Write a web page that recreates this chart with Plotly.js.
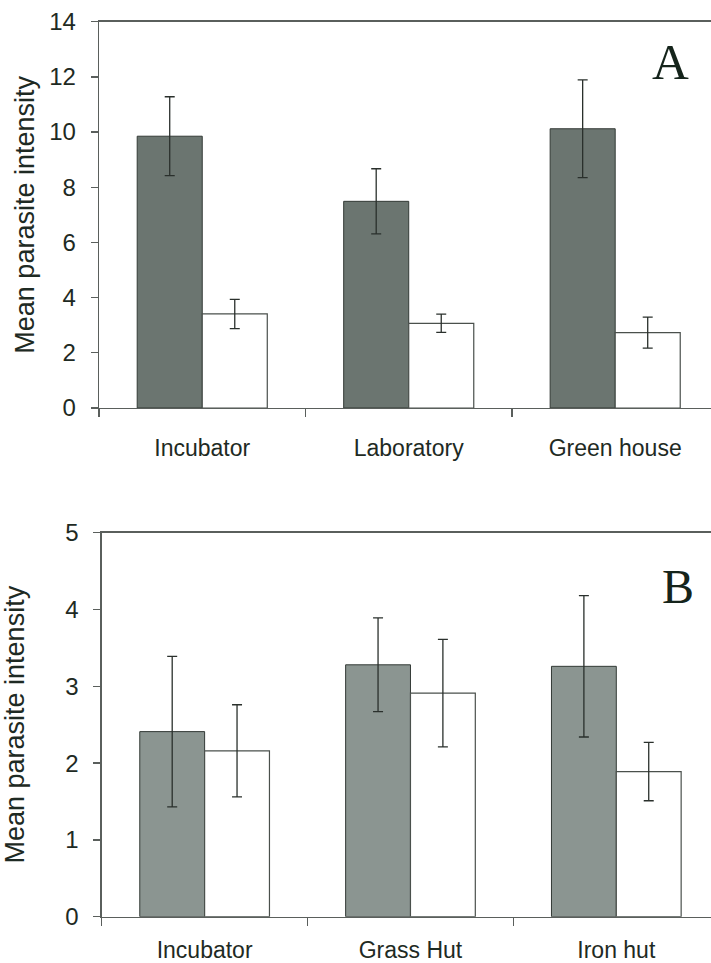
<!DOCTYPE html>
<html>
<head>
<meta charset="utf-8">
<script src="https://cdn.plot.ly/plotly-3.0.1.min.js"></script>
<style>
html,body{margin:0;padding:0;background:#fff;overflow:hidden;}
#chart{width:711px;height:963px;}
</style>
</head>
<body>
<div id="chart"></div>
<script>
// Panel A
var catsA = ["Incubator", "Laboratory", "Green house"];
var darkA = [9.85, 7.49, 10.12];
var darkErrA = [1.43, 1.18, 1.77];
var whiteA = [3.41, 3.07, 2.73];
var whiteErrA = [0.53, 0.33, 0.56];
// Panel B
var catsB = ["Incubator", "Grass Hut", "Iron hut"];
var darkB = [2.41, 3.28, 3.26];
var darkErrB = [0.98, 0.61, 0.92];
var whiteB = [2.16, 2.91, 1.89];
var whiteErrB = [0.60, 0.70, 0.38];
var yTicksA = [0, 2, 4, 6, 8, 10, 12, 14];
var yTicksB = [0, 1, 2, 3, 4, 5];
var yTitle = "Mean parasite intensity";
var panelLabels = ["A", "B"];

var W = 711, H = 963;
var textColor = "#1e2a23";
var lineColor = "#5a5f5c";
var errStyle = function(arr){
  return {type: "data", array: arr, visible: true, color: "#2a302c", thickness: 1.3, width: 5};
};

var traces = [
  {type: "bar", x: catsA, y: darkA, xaxis: "x", yaxis: "y", error_y: errStyle(darkErrA),
   marker: {color: "#6b7570", line: {color: "#333a36", width: 1}}, hoverinfo: "y"},
  {type: "bar", x: catsA, y: whiteA, xaxis: "x", yaxis: "y", error_y: errStyle(whiteErrA),
   marker: {color: "#ffffff", line: {color: "#4a504c", width: 1.2}}, hoverinfo: "y"},
  {type: "bar", x: catsB, y: darkB, xaxis: "x2", yaxis: "y2", error_y: errStyle(darkErrB),
   marker: {color: "#8b9591", line: {color: "#333a36", width: 1}}, hoverinfo: "y"},
  {type: "bar", x: catsB, y: whiteB, xaxis: "x2", yaxis: "y2", error_y: errStyle(whiteErrB),
   marker: {color: "#ffffff", line: {color: "#4a504c", width: 1.2}}, hoverinfo: "y"}
];

var xTickFont = {family: "Liberation Sans, Arial, sans-serif", size: 23, color: textColor};
var yTickFont = {family: "Liberation Sans, Arial, sans-serif", size: 24, color: textColor};
var titleFont = {family: "Liberation Sans, Arial, sans-serif", size: 27, color: textColor};

function xAxis(domainLeft, rangeEnd, anchor, standoff){
  return {
    domain: [domainLeft / W, 1], anchor: anchor, type: "category",
    range: [-0.5, rangeEnd], showline: true, linecolor: lineColor, linewidth: 1.3,
    mirror: true, ticks: "outside", tickson: "boundaries", ticklen: 8, tickwidth: 1.3,
    tickcolor: lineColor, tickfont: xTickFont, showgrid: false, zeroline: false,
    ticklabelstandoff: standoff, fixedrange: true
  };
}
function yAxis(top, bottom, range, ticks, anchor, titleStandoff){
  return {
    domain: [1 - bottom / H, 1 - top / H], anchor: anchor, range: range,
    tickvals: ticks, ticktext: ticks.map(String),
    showline: true, linecolor: lineColor, linewidth: 1.3, ticks: "outside",
    ticklen: 7, tickwidth: 1.3, tickcolor: lineColor, tickfont: yTickFont,
    showgrid: false, zeroline: false, ticklabelstandoff: 10,
    title: {text: yTitle, font: titleFont, standoff: titleStandoff}, fixedrange: true
  };
}

var layout = {
  width: W, height: H,
  margin: {l: 0, r: 0, t: 0, b: 0},
  paper_bgcolor: "#ffffff", plot_bgcolor: "#ffffff",
  showlegend: false, barmode: "group", bargap: 0.37, bargroupgap: 0,
  xaxis: xAxis(99, 2.464, "y", 19),
  yaxis: yAxis(21.7, 408, [0, 14], yTicksA, "x", 6),
  xaxis2: xAxis(101.7, 2.46, "y2", 12),
  yaxis2: yAxis(532.7, 916.7, [0, 5], yTicksB, "x2", 32),
  annotations: [
    {text: panelLabels[0], xref: "paper", yref: "paper", x: 670 / W, y: 1 - 62 / H,
     xanchor: "center", yanchor: "middle", showarrow: false,
     font: {family: "Liberation Serif, Times New Roman, serif", size: 51, color: "#15241b"}},
    {text: panelLabels[1], xref: "paper", yref: "paper", x: 677.5 / W, y: 1 - 586 / H,
     xanchor: "center", yanchor: "middle", showarrow: false,
     font: {family: "Liberation Serif, Times New Roman, serif", size: 48, color: "#15241b"}}
  ]
};

Plotly.newPlot("chart", traces, layout, {displayModeBar: false, staticPlot: true});
</script>
</body>
</html>
